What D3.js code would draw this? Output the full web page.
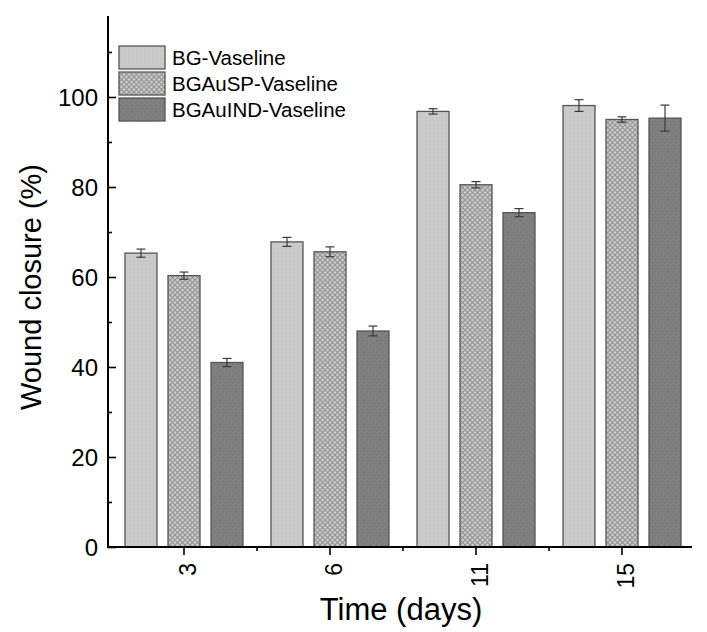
<!DOCTYPE html>
<html>
<head>
<meta charset="utf-8">
<script src="https://cdn.jsdelivr.net/npm/d3@7"></script>
<style>
  body { margin: 0; background: #fff; }
  text { font-family: "Liberation Sans", Arial, sans-serif; fill: #000; }
</style>
</head>
<body>
<script>
// data
var days = ["3", "6", "11", "15"];
var seriesNames = ["BG-Vaseline", "BGAuSP-Vaseline", "BGAuIND-Vaseline"];
var bgVals = [65.3, 67.8, 96.8, 98.1];
var bgErr = [0.9, 1.0, 0.6, 1.3];
var spVals = [60.3, 65.6, 80.5, 95.0];
var spErr = [0.8, 1.1, 0.7, 0.6];
var indVals = [41.0, 48.0, 74.3, 95.3];
var indErr = [0.9, 1.1, 0.9, 2.9];
var yTicks = [0, 20, 40, 60, 80, 100];
var yMinorTicks = [10, 30, 50, 70, 90, 110];

var width = 707, height = 632;

var svg = d3.select("body").append("svg")
    .attr("width", width)
    .attr("height", height);

// fills
var defs = svg.append("defs");
var pBG = defs.append("pattern").attr("id", "pBG")
    .attr("width", 4).attr("height", 4).attr("patternUnits", "userSpaceOnUse");
pBG.append("rect").attr("width", 4).attr("height", 4).attr("fill", "#cacaca");
pBG.append("rect").attr("x", 1).attr("y", 1).attr("width", 1).attr("height", 1).attr("fill", "#c0c0c0");

var pSP = defs.append("pattern").attr("id", "pSP")
    .attr("width", 5).attr("height", 5).attr("patternUnits", "userSpaceOnUse");
pSP.append("rect").attr("width", 5).attr("height", 5).attr("fill", "#cbcbcb");
pSP.append("path").attr("d", "M0,0L5,5M5,0L0,5")
    .attr("stroke", "#949494").attr("stroke-width", 1.1);

var pIND = defs.append("pattern").attr("id", "pIND")
    .attr("width", 6).attr("height", 6).attr("patternUnits", "userSpaceOnUse");
pIND.append("rect").attr("width", 6).attr("height", 6).attr("fill", "#808080");
pIND.append("rect").attr("x", 1).attr("y", 1).attr("width", 1).attr("height", 1).attr("fill", "#6a6a6a");
pIND.append("rect").attr("x", 4).attr("y", 4).attr("width", 1).attr("height", 1).attr("fill", "#6a6a6a");

var fills = ["url(#pBG)", "url(#pSP)", "url(#pIND)"];

var x = d3.scaleBand().domain(days).range([111, 695]);
var xs = d3.scaleBand().domain(seriesNames).range([-59, 59]).paddingInner(0.256);
var y = d3.scaleLinear().domain([0, 118]).range([547, 16]);

var data = [];
days.forEach(function(d, i) {
  data.push({day: d, s: seriesNames[0], v: bgVals[i], e: bgErr[i], k: 0});
  data.push({day: d, s: seriesNames[1], v: spVals[i], e: spErr[i], k: 1});
  data.push({day: d, s: seriesNames[2], v: indVals[i], e: indErr[i], k: 2});
});

// bars
svg.append("g").selectAll("rect").data(data).join("rect")
    .attr("x", d => x(d.day) + x.bandwidth() / 2 + xs(d.s))
    .attr("y", d => y(d.v))
    .attr("width", xs.bandwidth())
    .attr("height", d => y(0) - y(d.v))
    .attr("fill", d => fills[d.k])
    .attr("stroke", "#555")
    .attr("stroke-width", 1.3);

// error bars
var eb = svg.append("g").attr("stroke", "#3a3a3a").attr("stroke-width", 1.2);
data.forEach(function(d) {
  var cx = x(d.day) + x.bandwidth() / 2 + xs(d.s) + xs.bandwidth() / 2;
  eb.append("line").attr("x1", cx).attr("x2", cx).attr("y1", y(d.v + d.e)).attr("y2", y(d.v - d.e));
  eb.append("line").attr("x1", cx - 4.5).attr("x2", cx + 4.5).attr("y1", y(d.v + d.e)).attr("y2", y(d.v + d.e));
  eb.append("line").attr("x1", cx - 4.5).attr("x2", cx + 4.5).attr("y1", y(d.v - d.e)).attr("y2", y(d.v - d.e));
});

// y axis, ticks inward
var yAxis = svg.append("g").attr("transform", "translate(108,0)")
    .call(d3.axisRight(y).tickValues(yTicks).tickSize(8).tickFormat(""));
yAxis.select(".domain").remove();
yAxis.selectAll("line").attr("stroke", "#000").attr("stroke-width", 1.6);
var yMinor = svg.append("g").attr("transform", "translate(108,0)")
    .call(d3.axisRight(y).tickValues(yMinorTicks).tickSize(4).tickFormat(""));
yMinor.select(".domain").remove();
yMinor.selectAll("line").attr("stroke", "#000").attr("stroke-width", 1.6);
svg.append("line").attr("x1", 108).attr("x2", 108).attr("y1", 16).attr("y2", 548)
    .attr("stroke", "#000").attr("stroke-width", 2);
svg.append("g").selectAll("text").data(yTicks).join("text")
    .attr("x", 98).attr("y", d => y(d) + 8.5)
    .attr("text-anchor", "end")
    .style("font-size", "24px")
    .text(d => d);

// x axis
var xAxis = svg.append("g").attr("transform", "translate(0,547)")
    .call(d3.axisBottom(x).tickSize(8).tickFormat(""));
xAxis.select(".domain").remove();
xAxis.selectAll("line").attr("stroke", "#000").attr("stroke-width", 1.6);
var bounds = days.slice(0, -1).map(d => x(d) + x.bandwidth());
svg.append("g").selectAll("line").data(bounds).join("line")
    .attr("x1", d => d).attr("x2", d => d).attr("y1", 547).attr("y2", 551)
    .attr("stroke", "#000").attr("stroke-width", 1.6);
svg.append("line").attr("x1", 107).attr("x2", 692).attr("y1", 547).attr("y2", 547)
    .attr("stroke", "#000").attr("stroke-width", 2);
svg.append("g").selectAll("text").data(days).join("text")
    .attr("transform", d => "translate(" + (x(d) + x.bandwidth() / 2 + 12) + ",563) rotate(-90)")
    .attr("text-anchor", "end")
    .style("font-size", "23px")
    .text(d => d);

// axis titles
svg.append("text").attr("x", 401).attr("y", 620)
    .attr("text-anchor", "middle").style("font-size", "31px").text("Time (days)");
svg.append("text").attr("transform", "translate(41,287) rotate(-90)")
    .attr("text-anchor", "middle").style("font-size", "29px").text("Wound closure (%)");

// legend
var lg = svg.append("g").selectAll("g").data(seriesNames).join("g")
    .attr("transform", (d, i) => "translate(119," + (46 + i * 26) + ")");
lg.append("rect").attr("width", 46).attr("height", 23)
    .attr("fill", (d, i) => fills[i]).attr("stroke", "#555").attr("stroke-width", 1.3);
lg.append("text").attr("x", 53).attr("y", 19).style("font-size", "20.5px").text(d => d);
</script>
</body>
</html>
